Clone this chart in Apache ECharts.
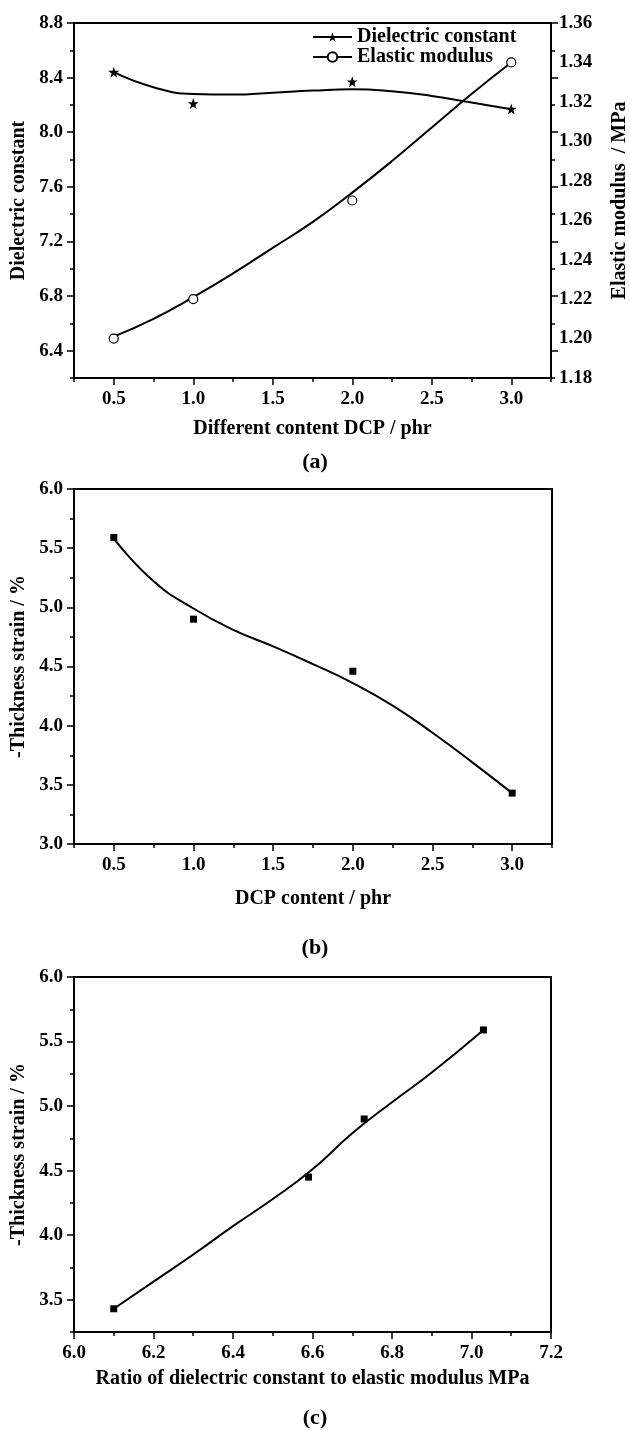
<!DOCTYPE html>
<html>
<head>
<meta charset="utf-8">
<script src="https://cdn.jsdelivr.net/npm/echarts@6/dist/echarts.min.js"></script>
<style>
html, body { margin: 0; padding: 0; background: #fff; }
#main { width: 630px; height: 1431px; }
</style>
</head>
<body>
<div id="main"></div>
<script>
// (a) dielectric constant / elastic modulus vs DCP content
var dcpContent = [0.5, 1.0, 2.0, 3.0];
var dielectricConstant = [8.44, 8.21, 8.37, 8.17];
var elasticModulus = [1.20, 1.22, 1.27, 1.34];
// fitted curves
var fitContent = [0.5, 0.75, 1.0, 1.25, 1.5, 1.75, 2.0, 2.25, 2.5, 2.75, 3.0];
var dielectricFit = [8.44, 8.33, 8.28, 8.276, 8.29, 8.305, 8.315, 8.30, 8.266, 8.217, 8.168];
var modulusFit = [1.201, 1.210, 1.221, 1.233, 1.246, 1.259, 1.274, 1.290, 1.307, 1.324, 1.340];

// (b) thickness strain vs DCP content
var thicknessStrain = [5.59, 4.90, 4.46, 3.43];
var strainFit = [5.58, 5.22, 4.99, 4.81, 4.67, 4.52, 4.36, 4.17, 3.94, 3.69, 3.43];

// (c) thickness strain vs ratio
var ratio = [6.10, 6.59, 6.73, 7.03];
var ratioStrain = [3.43, 4.45, 4.90, 5.59];
var ratioFitX = [6.10, 6.20, 6.30, 6.40, 6.50, 6.60, 6.70, 6.80, 6.90, 7.03];
var ratioFitY = [3.43, 3.64, 3.85, 4.07, 4.28, 4.51, 4.79, 5.03, 5.26, 5.59];

// tick labels
var dcpTicks = [0.5, 1.0, 1.5, 2.0, 2.5, 3.0];
var dielectricTicks = [6.4, 6.8, 7.2, 7.6, 8.0, 8.4, 8.8];
var modulusTicks = [1.18, 1.20, 1.22, 1.24, 1.26, 1.28, 1.30, 1.32, 1.34, 1.36];
var strainTicksB = [3.0, 3.5, 4.0, 4.5, 5.0, 5.5, 6.0];
var ratioTicks = [6.0, 6.2, 6.4, 6.6, 6.8, 7.0, 7.2];
var strainTicksC = [3.5, 4.0, 4.5, 5.0, 5.5, 6.0];

var FONT = '"Liberation Serif", "Times New Roman", serif';
var STAR = 'path://M50,2 L61.8,38.2 L99,38.2 L69,60.3 L80.3,96.5 L50,74.3 L19.7,96.5 L31,60.3 L1,38.2 L38.2,38.2 Z';

function pairs(xs, ys) {
  return xs.map(function (x, i) { return [x, ys[i]]; });
}

// axis with the minor ticks, the line and the labels
function baseAxis(grid, pos, min, max, step, ticks, digits, name, gap) {
  var vertical = pos === 'left' || pos === 'right';
  var label = {
    show: !!ticks, margin: vertical ? 11 : 12, color: '#000',
    fontFamily: FONT, fontWeight: 'bold', fontSize: 19,
    formatter: function (v) { return v.toFixed(digits); }
  };
  if (ticks) label.customValues = ticks;
  return {
    type: 'value', gridIndex: grid, position: pos, min: min, max: max, interval: step,
    name: name || '', nameLocation: 'middle', nameGap: gap || 0, nameRotate: vertical ? 90 : 0,
    nameMoveOverlap: false,
    nameTextStyle: { fontFamily: FONT, fontWeight: 'bold', fontSize: 20, color: '#000' },
    axisLine: { show: true, onZero: false, lineStyle: { color: '#000', width: 2 } },
    axisTick: { show: true, inside: false, length: 4, lineStyle: { color: '#000', width: 1.5 } },
    axisLabel: label,
    splitLine: { show: false },
    minorTick: { show: false }
  };
}

// overlay carrying the longer major ticks
function majorAxis(grid, pos, min, max, step, ticks) {
  return {
    type: 'value', gridIndex: grid, position: pos, min: min, max: max, interval: step,
    axisLine: { show: false },
    axisTick: { show: true, inside: false, length: 7, customValues: ticks, lineStyle: { color: '#000', width: 1.5 } },
    axisLabel: { show: false },
    splitLine: { show: false }
  };
}

function gridBox(top, width) {
  return {
    left: 74, top: top, width: width, height: 355, show: true,
    borderColor: '#000', borderWidth: 2, backgroundColor: 'transparent',
    containLabel: false, outerBoundsMode: 'none'
  };
}

var modulusAxis = {
  type: 'value', gridIndex: 0, position: 'right', min: 1.18, max: 1.36, interval: 0.02,
  name: 'Elastic modulus  / MPa', nameLocation: 'middle', nameGap: 59, nameRotate: 90,
  nameMoveOverlap: false,
  nameTextStyle: { fontFamily: FONT, fontWeight: 'bold', fontSize: 20, color: '#000' },
  axisLine: { show: false },
  axisTick: { show: false },
  axisLabel: {
    customValues: modulusTicks, margin: 8, color: '#000',
    fontFamily: FONT, fontWeight: 'bold', fontSize: 19,
    formatter: function (v) { return v.toFixed(2); }
  },
  splitLine: { show: false }
};

function curve(name, xi, yi, data) {
  return {
    type: 'line', name: name, xAxisIndex: xi, yAxisIndex: yi, data: data,
    smooth: true, symbol: 'none', showSymbol: false,
    lineStyle: { color: '#000', width: 2 }, z: 2, silent: true
  };
}

function points(name, xi, yi, data, symbol, size, itemStyle) {
  return {
    type: 'line', name: name, xAxisIndex: xi, yAxisIndex: yi, data: data,
    symbol: symbol, symbolSize: size, showSymbol: true,
    itemStyle: itemStyle, lineStyle: { opacity: 0 }, z: 4
  };
}

var chart = echarts.init(document.getElementById('main'), null, { renderer: 'canvas' });

chart.setOption({
  backgroundColor: '#fff',
  animation: false,
  title: [
    { text: '(a)', left: 'center', top: 451, padding: 0, textStyle: { fontFamily: FONT, fontWeight: 'bold', fontSize: 22, color: '#000' } },
    { text: '(b)', left: 'center', top: 937, padding: 0, textStyle: { fontFamily: FONT, fontWeight: 'bold', fontSize: 22, color: '#000' } },
    { text: '(c)', left: 'center', top: 1407, padding: 0, textStyle: { fontFamily: FONT, fontWeight: 'bold', fontSize: 22, color: '#000' } }
  ],
  legend: {
    orient: 'vertical', left: 312, top: 27, padding: 0,
    itemWidth: 39, itemHeight: 12, itemGap: 0,
    data: ['Dielectric constant', 'Elastic modulus'],
    lineStyle: { color: '#000', width: 2, opacity: 1 },
    textStyle: { fontFamily: FONT, fontWeight: 'bold', fontSize: 20, color: '#000', lineHeight: 20 }
  },
  grid: [gridBox(23, 477), gridBox(489, 478), gridBox(977, 477)],
  xAxis: [
    baseAxis(0, 'bottom', 0.25, 3.25, 0.25, dcpTicks, 1, 'Different content DCP / phr', 41),
    majorAxis(0, 'bottom', 0.25, 3.25, 0.25, dcpTicks),
    baseAxis(1, 'bottom', 0.25, 3.25, 0.25, dcpTicks, 1, 'DCP content / phr', 45),
    majorAxis(1, 'bottom', 0.25, 3.25, 0.25, dcpTicks),
    baseAxis(2, 'bottom', 6.0, 7.2, 0.1, ratioTicks, 1, 'Ratio of dielectric constant to elastic modulus MPa', 37),
    majorAxis(2, 'bottom', 6.0, 7.2, 0.1, ratioTicks)
  ],
  yAxis: [
    baseAxis(0, 'left', 6.2, 8.8, 0.2, dielectricTicks, 1, 'Dielectric constant', 45),
    majorAxis(0, 'left', 6.2, 8.8, 0.2, dielectricTicks),
    baseAxis(0, 'right', 6.2, 8.8, 0.2, null, 1),
    majorAxis(0, 'right', 6.2, 8.8, 0.2, dielectricTicks),
    modulusAxis,
    baseAxis(1, 'left', 3.0, 6.0, 0.25, strainTicksB, 1, '-Thickness strain / %', 45),
    majorAxis(1, 'left', 3.0, 6.0, 0.25, strainTicksB),
    baseAxis(2, 'left', 3.25, 6.0, 0.25, strainTicksC, 1, '-Thickness strain / %', 45),
    majorAxis(2, 'left', 3.25, 6.0, 0.25, strainTicksC)
  ],
  series: [
    curve('dielectric fit', 0, 0, pairs(fitContent, dielectricFit)),
    points('Dielectric constant', 0, 0, pairs(dcpContent, dielectricConstant), STAR, 11, { color: '#000' }),
    curve('modulus fit', 0, 4, pairs(fitContent, modulusFit)),
    points('Elastic modulus', 0, 4, pairs(dcpContent, elasticModulus), 'circle', 9,
      { color: '#fff', borderColor: '#000', borderWidth: 1.2 }),
    curve('strain fit', 2, 5, pairs(fitContent, strainFit)),
    points('Thickness strain', 2, 5, pairs(dcpContent, thicknessStrain), 'rect', 7, { color: '#000' }),
    curve('ratio fit', 4, 7, pairs(ratioFitX, ratioFitY)),
    points('Thickness strain vs ratio', 4, 7, pairs(ratio, ratioStrain), 'rect', 7, { color: '#000' })
  ]
});
</script>
</body>
</html>
